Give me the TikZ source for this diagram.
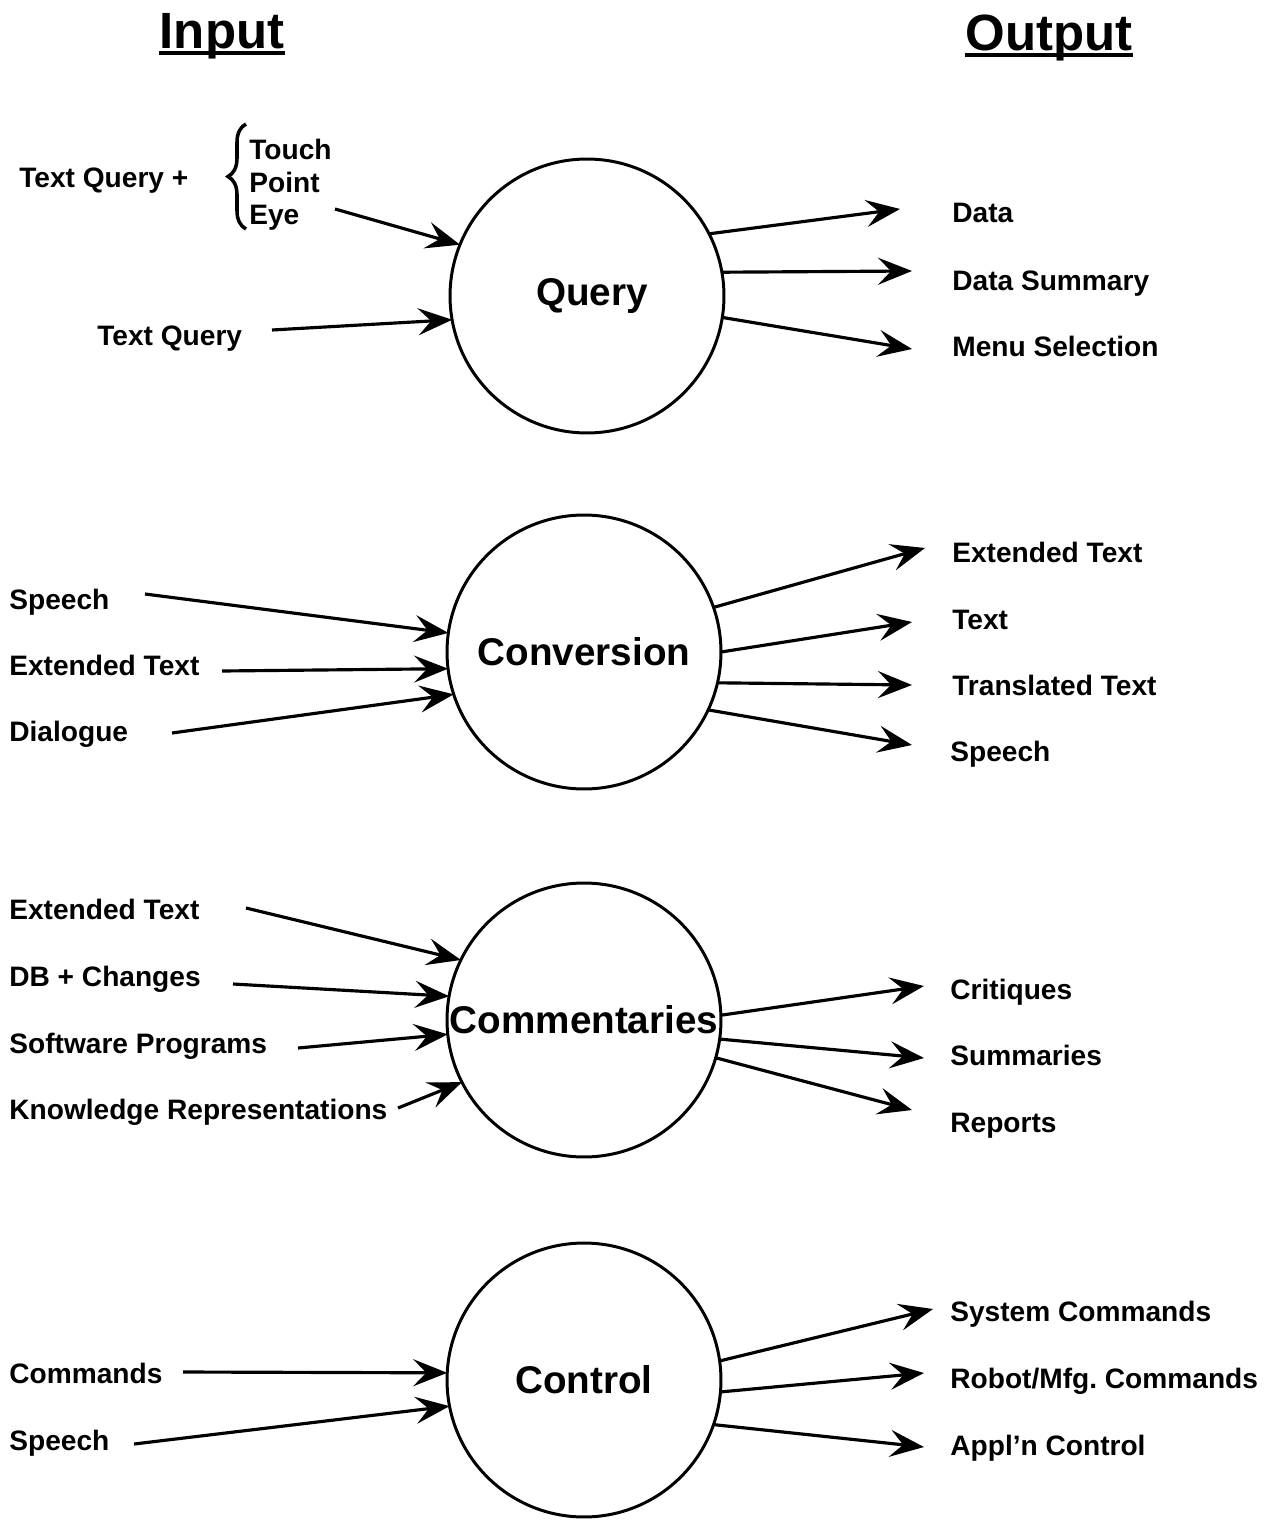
\documentclass[tikz,border=0pt]{standalone}
\usepackage{fontspec}
\setmainfont{Liberation Sans}
\usetikzlibrary{arrows.meta,decorations.pathreplacing}

\begin{document}
\begin{tikzpicture}[x=0.02cm,y=-0.02cm,
	main_node/.style={circle,draw,line width=1.7pt,minimum size=5.48cm,inner sep=0pt,outer sep=0pt,font=\bfseries\fontsize{22}{26}\selectfont},
	lbl_node/.style={anchor=mid west,yshift=-0.1cm,inner sep=0pt,font=\bfseries\fontsize{16}{19}\selectfont},
	head_node/.style={anchor=base,inner sep=0pt,font=\bfseries\fontsize{29}{34}\selectfont},
	arr/.style={line width=1.8pt,-{Stealth[length=6.8mm,width=5.4mm,inset=2.6mm]}}]
	\useasboundingbox (0,0) rectangle (1271,1524);

	\node[head_node] (in) at (222,49) {Input};
	\node[head_node] (out) at (1049,51) {Output};
	\draw[line width=2.2pt] ([yshift=-0.08cm]in.base west) -- ([yshift=-0.08cm]in.base east);
	\draw[line width=2.2pt] ([yshift=-0.08cm]out.base west) -- ([yshift=-0.08cm]out.base east);

	\node[main_node] (query) at (587,296) {\hspace*{0.2cm}Query};
	\node[main_node] (conv) at (584,652) {Conversion};
	\node[main_node] (comm) at (584,1020) {Commentaries};
	\node[main_node] (ctrl) at (584,1380) {Control};

	\node[lbl_node] (tq1) at (19,178) {Text Query +};
	\node[lbl_node] (touch) at (249,150) {Touch};
	\node[lbl_node] (point) at (249,183) {Point};
	\node[lbl_node] (eye) at (249,215) {Eye};
	\node[lbl_node] (tq2) at (97,336) {Text Query};
	\draw[line width=2pt,decorate,decoration={brace,amplitude=0.36cm}] (246,229) -- (246,124);
	\node[lbl_node] (data) at (952,213) {Data};
	\node[lbl_node] (dsum) at (952,281) {Data Summary};
	\node[lbl_node] (menu) at (952,347) {Menu Selection};
	\coordinate (q_in1) at (335,209);
	\coordinate (q_in2) at (272,330);
	\coordinate (q_out1) at (900,209);
	\coordinate (q_out2) at (912,271);
	\coordinate (q_out3) at (912,349);
	\draw[arr] (q_in1) -- (query.158);
	\draw[arr] (q_in2) -- (query.-170);
	\draw[arr] (query.27) -- (q_out1);
	\draw[arr] (query.10) -- (q_out2);
	\draw[arr] (query.-9) -- (q_out3);

	\node[lbl_node] (c_sp) at (9,600) {Speech};
	\node[lbl_node] (c_ext) at (9,666) {Extended Text};
	\node[lbl_node] (c_dia) at (9,732) {Dialogue};
	\node[lbl_node] (c_ext2) at (952,553) {Extended Text};
	\node[lbl_node] (c_txt) at (952,620) {Text};
	\node[lbl_node] (c_tr) at (952,686) {Translated Text};
	\node[lbl_node] (c_sp2) at (950,752) {Speech};
	\coordinate (c_in1) at (145,594);
	\coordinate (c_in2) at (222,671);
	\coordinate (c_in3) at (172,733);
	\coordinate (c_out1) at (925,548);
	\coordinate (c_out2) at (912,622);
	\coordinate (c_out3) at (912,685);
	\coordinate (c_out4) at (912,745);
	\draw[arr] (c_in1) -- (conv.172);
	\draw[arr] (c_in2) -- (conv.-173);
	\draw[arr] (c_in3) -- (conv.-162);
	\draw[arr] (conv.19) -- (c_out1);
	\draw[arr] (conv.0) -- (c_out2);
	\draw[arr] (conv.-13) -- (c_out3);
	\draw[arr] (conv.-25) -- (c_out4);

	\node[lbl_node] (m_ext) at (9,910) {Extended Text};
	\node[lbl_node] (m_db) at (9,977) {DB + Changes};
	\node[lbl_node] (m_sw) at (9,1044) {Software Programs};
	\node[lbl_node] (m_kr) at (9,1110) {Knowledge Representations};
	\node[lbl_node] (m_cr) at (950,990) {Critiques};
	\node[lbl_node] (m_su) at (950,1056) {Summaries};
	\node[lbl_node] (m_re) at (950,1123) {Reports};
	\coordinate (m_in1) at (246,908);
	\coordinate (m_in2) at (233,984);
	\coordinate (m_in3) at (298,1048);
	\coordinate (m_in4) at (398,1108);
	\coordinate (m_out1) at (924,986);
	\coordinate (m_out2) at (924,1058);
	\coordinate (m_out3) at (912,1110);
	\draw[arr] (m_in1) -- (comm.154);
	\draw[arr] (m_in2) -- (comm.170);
	\draw[arr] (m_in3) -- (comm.-174);
	\draw[arr] (m_in4) -- (comm.-153);
	\draw[arr] (comm.2) -- (m_out1);
	\draw[arr] (comm.-8) -- (m_out2);
	\draw[arr] (comm.-16) -- (m_out3);

	\node[lbl_node] (t_cmd) at (9,1374) {Commands};
	\node[lbl_node] (t_sp) at (9,1441) {Speech};
	\node[lbl_node] (t_sys) at (950,1312) {System Commands};
	\node[lbl_node] (t_rob) at (950,1379) {Robot/Mfg.\ Commands};
	\node[lbl_node] (t_app) at (950,1446) {Appl'n Control};
	\coordinate (t_in1) at (183,1372);
	\coordinate (t_in2) at (134,1444);
	\coordinate (t_out1) at (933,1309);
	\coordinate (t_out2) at (924,1373);
	\coordinate (t_out3) at (924,1447);
	\draw[arr] (t_in1) -- (ctrl.177);
	\draw[arr] (t_in2) -- (ctrl.-169);
	\draw[arr] (ctrl.8) -- (t_out1);
	\draw[arr] (ctrl.-5) -- (t_out2);
	\draw[arr] (ctrl.-19) -- (t_out3);
\end{tikzpicture}
\end{document}
